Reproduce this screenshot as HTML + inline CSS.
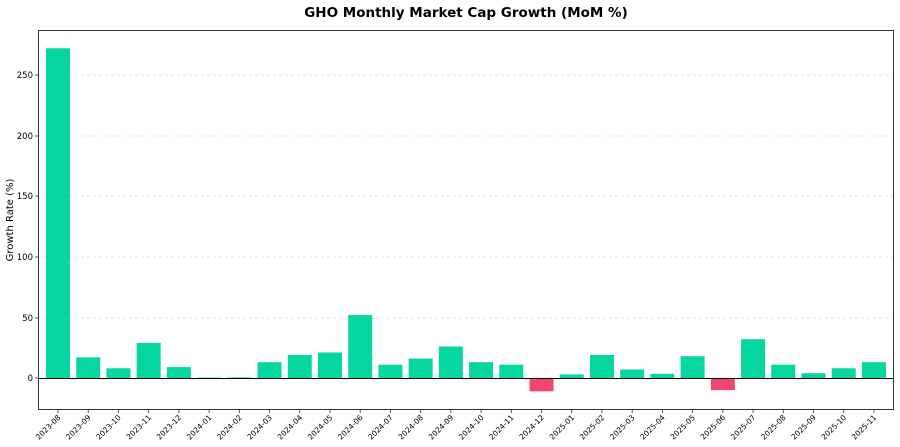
<!DOCTYPE html><html><head><style>body{margin:0;background:#fff}svg{display:block}text{font-family:"DejaVu Sans","Liberation Sans",sans-serif}</style></head><body>
<svg width="900" height="447" xmlns="http://www.w3.org/2000/svg">
<text x="466" y="17" font-size="13.5" font-weight="bold" text-anchor="middle">GHO Monthly Market Cap Growth (MoM %)</text>
<g stroke="#ccc" stroke-dasharray="3,3" stroke-width="0.6">
<line x1="39" x2="893" y1="75" y2="75"/><line x1="39" x2="893" y1="136" y2="136"/><line x1="39" x2="893" y1="196" y2="196"/><line x1="39" x2="893" y1="257" y2="257"/><line x1="39" x2="893" y1="318" y2="318"/>
</g>
<g font-size="8.5" text-anchor="end">
<text x="33" y="78">250</text><text x="33" y="139">200</text><text x="33" y="199">150</text><text x="33" y="260">100</text><text x="33" y="321">50</text><text x="33" y="381">0</text>
</g>
<g stroke="#333" stroke-width="0.8"><line x1="35" x2="39" y1="75" y2="75"/><line x1="35" x2="39" y1="136" y2="136"/><line x1="35" x2="39" y1="196" y2="196"/><line x1="35" x2="39" y1="257" y2="257"/><line x1="35" x2="39" y1="318" y2="318"/><line x1="35" x2="39" y1="378" y2="378"/></g>
<text transform="translate(13,220) rotate(-90)" font-size="10" text-anchor="middle">Growth Rate (%)</text>
<g fill="#06D6A0">
<rect x="46" y="48.3" width="24" height="329.7"/>
<rect x="76.22" y="357.4" width="24" height="20.6"/>
<rect x="106.44" y="368.3" width="24" height="9.7"/>
<rect x="136.66" y="342.9" width="24" height="35.1"/>
<rect x="166.88" y="367.1" width="24" height="10.9"/>
<rect x="197.1" y="377.6" width="24" height="0.4"/>
<rect x="227.32" y="377.4" width="24" height="0.6"/>
<rect x="257.54" y="362.2" width="24" height="15.8"/>
<rect x="287.76" y="355" width="24" height="23"/>
<rect x="317.98" y="352.5" width="24" height="25.5"/>
<rect x="348.2" y="315" width="24" height="63"/>
<rect x="378.42" y="364.7" width="24" height="13.3"/>
<rect x="408.64" y="358.6" width="24" height="19.4"/>
<rect x="438.86" y="346.5" width="24" height="31.5"/>
<rect x="469.08" y="362.2" width="24" height="15.8"/>
<rect x="499.3" y="364.7" width="24" height="13.3"/>
<rect x="529.52" y="378" width="24" height="13.3" fill="#EF476F"/>
<rect x="559.74" y="374.4" width="24" height="3.6"/>
<rect x="589.96" y="355" width="24" height="23"/>
<rect x="620.18" y="369.5" width="24" height="8.5"/>
<rect x="650.4" y="373.8" width="24" height="4.2"/>
<rect x="680.62" y="356.2" width="24" height="21.8"/>
<rect x="710.84" y="378" width="24" height="12.1" fill="#EF476F"/>
<rect x="741.06" y="339.2" width="24" height="38.8"/>
<rect x="771.28" y="364.7" width="24" height="13.3"/>
<rect x="801.5" y="373.2" width="24" height="4.8"/>
<rect x="831.72" y="368.3" width="24" height="9.7"/>
<rect x="861.94" y="362.2" width="24" height="15.8"/>
</g>
<line x1="39" x2="893" y1="378.5" y2="378.5" stroke="#000" stroke-width="1"/>
<rect x="38.5" y="30.5" width="855" height="379" fill="none" stroke="#333" stroke-width="1"/>
<g stroke="#333" stroke-width="0.8">
<line x1="58" x2="58" y1="409" y2="413"/><line x1="88.22" x2="88.22" y1="409" y2="413"/><line x1="118.44" x2="118.44" y1="409" y2="413"/><line x1="148.66" x2="148.66" y1="409" y2="413"/><line x1="178.88" x2="178.88" y1="409" y2="413"/><line x1="209.1" x2="209.1" y1="409" y2="413"/><line x1="239.32" x2="239.32" y1="409" y2="413"/><line x1="269.54" x2="269.54" y1="409" y2="413"/><line x1="299.76" x2="299.76" y1="409" y2="413"/><line x1="329.98" x2="329.98" y1="409" y2="413"/><line x1="360.2" x2="360.2" y1="409" y2="413"/><line x1="390.42" x2="390.42" y1="409" y2="413"/><line x1="420.64" x2="420.64" y1="409" y2="413"/><line x1="450.86" x2="450.86" y1="409" y2="413"/><line x1="481.08" x2="481.08" y1="409" y2="413"/><line x1="511.3" x2="511.3" y1="409" y2="413"/><line x1="541.52" x2="541.52" y1="409" y2="413"/><line x1="571.74" x2="571.74" y1="409" y2="413"/><line x1="601.96" x2="601.96" y1="409" y2="413"/><line x1="632.18" x2="632.18" y1="409" y2="413"/><line x1="662.4" x2="662.4" y1="409" y2="413"/><line x1="692.62" x2="692.62" y1="409" y2="413"/><line x1="722.84" x2="722.84" y1="409" y2="413"/><line x1="753.06" x2="753.06" y1="409" y2="413"/><line x1="783.28" x2="783.28" y1="409" y2="413"/><line x1="813.5" x2="813.5" y1="409" y2="413"/><line x1="843.72" x2="843.72" y1="409" y2="413"/><line x1="873.94" x2="873.94" y1="409" y2="413"/>
</g>
<g font-size="7.5" text-anchor="end">
<text transform="translate(61,418) rotate(-45)">2023-08</text>
<text transform="translate(91.22,418) rotate(-45)">2023-09</text>
<text transform="translate(121.44,418) rotate(-45)">2023-10</text>
<text transform="translate(151.66,418) rotate(-45)">2023-11</text>
<text transform="translate(181.88,418) rotate(-45)">2023-12</text>
<text transform="translate(212.1,418) rotate(-45)">2024-01</text>
<text transform="translate(242.32,418) rotate(-45)">2024-02</text>
<text transform="translate(272.54,418) rotate(-45)">2024-03</text>
<text transform="translate(302.76,418) rotate(-45)">2024-04</text>
<text transform="translate(332.98,418) rotate(-45)">2024-05</text>
<text transform="translate(363.2,418) rotate(-45)">2024-06</text>
<text transform="translate(393.42,418) rotate(-45)">2024-07</text>
<text transform="translate(423.64,418) rotate(-45)">2024-08</text>
<text transform="translate(453.86,418) rotate(-45)">2024-09</text>
<text transform="translate(484.08,418) rotate(-45)">2024-10</text>
<text transform="translate(514.3,418) rotate(-45)">2024-11</text>
<text transform="translate(544.52,418) rotate(-45)">2024-12</text>
<text transform="translate(574.74,418) rotate(-45)">2025-01</text>
<text transform="translate(604.96,418) rotate(-45)">2025-02</text>
<text transform="translate(635.18,418) rotate(-45)">2025-03</text>
<text transform="translate(665.4,418) rotate(-45)">2025-04</text>
<text transform="translate(695.62,418) rotate(-45)">2025-05</text>
<text transform="translate(725.84,418) rotate(-45)">2025-06</text>
<text transform="translate(756.06,418) rotate(-45)">2025-07</text>
<text transform="translate(786.28,418) rotate(-45)">2025-08</text>
<text transform="translate(816.5,418) rotate(-45)">2025-09</text>
<text transform="translate(846.72,418) rotate(-45)">2025-10</text>
<text transform="translate(876.94,418) rotate(-45)">2025-11</text>
</g>
</svg></body></html>
